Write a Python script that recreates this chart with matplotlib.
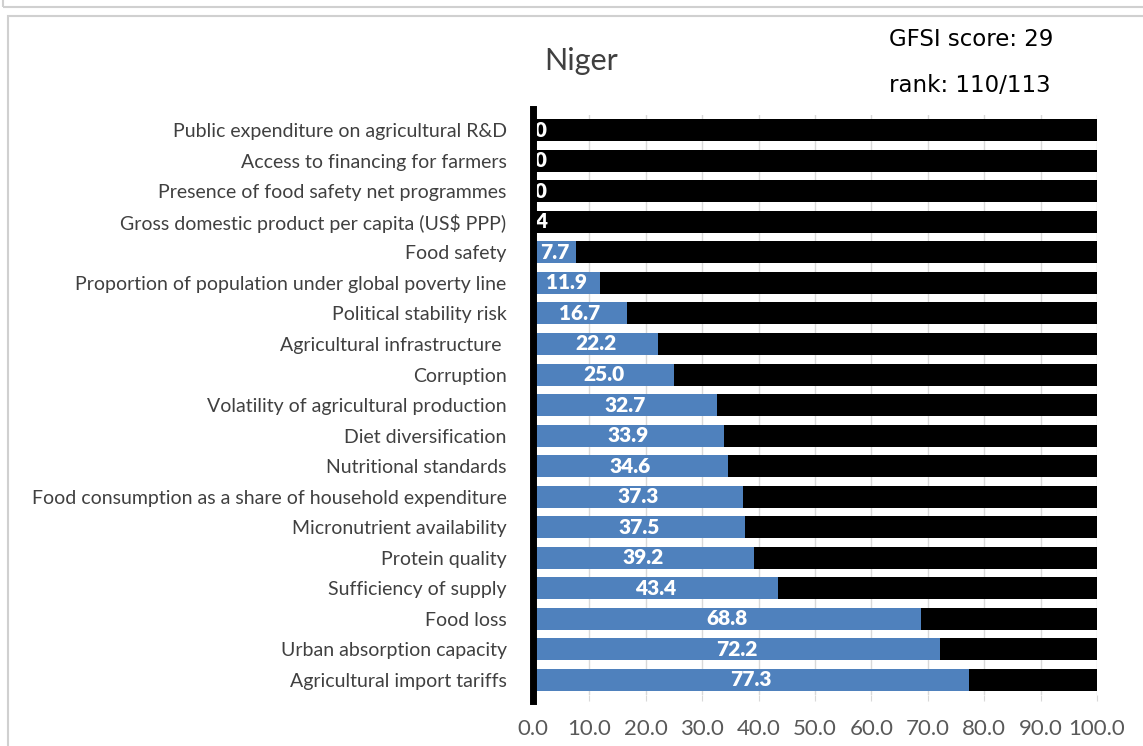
import matplotlib.pyplot as plt
import matplotlib.patches as patches
import numpy as np

# === Data ===
indicators = [
    "Public expenditure on agricultural R&D",
    "Access to financing for farmers",
    "Presence of food safety net programmes",
    "Gross domestic product per capita (US$ PPP)",
    "Food safety",
    "Proportion of population under global poverty line",
    "Political stability risk",
    "Agricultural infrastructure ",
    "Corruption",
    "Volatility of agricultural production",
    "Diet diversification",
    "Nutritional standards",
    "Food consumption as a share of household expenditure",
    "Micronutrient availability",
    "Protein quality",
    "Sufficiency of supply",
    "Food loss",
    "Urban absorption capacity",
    "Agricultural import tariffs",
]
scores = [0.0, 0.0, 0.0, 0.4, 7.7, 11.9, 16.7, 22.2, 25.0, 32.7,
          33.9, 34.6, 37.3, 37.5, 39.2, 43.4, 68.8, 72.2, 77.3]
max_score = 100.0
x_ticks = np.arange(0, 101, 10)

country = "Niger"
gfsi_score = "GFSI score: 29"
gfsi_rank = "rank: 110/113"

# === Styles ===
BLUE = "#4f81bd"
TEXT_GRAY = "#404040"
TICK_GRAY = "#595959"
FONT = ["Lato", "DejaVu Sans"]

scores = np.array(scores)
remainder = max_score - scores
y = np.arange(len(indicators))[::-1]

fig = plt.figure(figsize=(11.43, 7.46), dpi=100)
ax = fig.add_axes([0.4663, 0.068, 0.4935, 0.778])

# Blue score + black remainder up to 100
ax.barh(y, scores, height=0.72, color=BLUE, zorder=2)
ax.barh(y, remainder, left=scores, height=0.72, color="black", zorder=2)

# Value labels centred in the blue segment
for yi, s in zip(y, scores):
    ax.text(s / 2, yi, f"{s:.1f}", ha="center", va="center", color="white",
            fontsize=15, fontweight="heavy", family=FONT,
            zorder=3, clip_on=True)

ax.set_xlim(0, 100)
ax.set_ylim(-0.5, len(indicators) - 0.5)
ax.set_yticks(y)
ax.set_yticklabels(indicators, fontsize=14, color=TEXT_GRAY, family=FONT)
ax.set_xticks(x_ticks)
ax.set_xticklabels([f"{t:.1f}" for t in x_ticks], fontsize=16, color=TICK_GRAY,
                   family=FONT)
ax.tick_params(axis="y", length=0, pad=19)
ax.tick_params(axis="x", length=4, color="#d9d9d9", pad=13)
ax.grid(axis="x", color="#d9d9d9", lw=1, zorder=0)

for side in ["top", "right", "bottom"]:
    ax.spines[side].set_visible(False)
ax.spines["left"].set_linewidth(5)
ax.spines["left"].set_color("black")
ax.spines["left"].set_zorder(4)
ax.spines["left"].set_bounds(-0.7, len(indicators) - 0.3)

# Titles
fig.text(0.508, 0.918, country, ha="center", va="center", fontsize=22,
         color=TEXT_GRAY, family=FONT)
fig.text(0.778, 0.947, gfsi_score, ha="left", va="center", fontsize=16.5, color="black")
fig.text(0.778, 0.886, gfsi_rank, ha="left", va="center", fontsize=16.5, color="black")

# Chart frames
fig.patches.append(patches.Rectangle((8 / 1143, -0.05), 1.1, 1 - 16 / 746 + 0.05,
                                     transform=fig.transFigure, fill=False,
                                     edgecolor="#d0d0d0", lw=1.5))
fig.patches.append(patches.Rectangle((3 / 1143, 1 - 7 / 746), 1.1, 0.1,
                                     transform=fig.transFigure, fill=False,
                                     edgecolor="#d0d0d0", lw=1.5))

fig.savefig("out.png", dpi=100)
